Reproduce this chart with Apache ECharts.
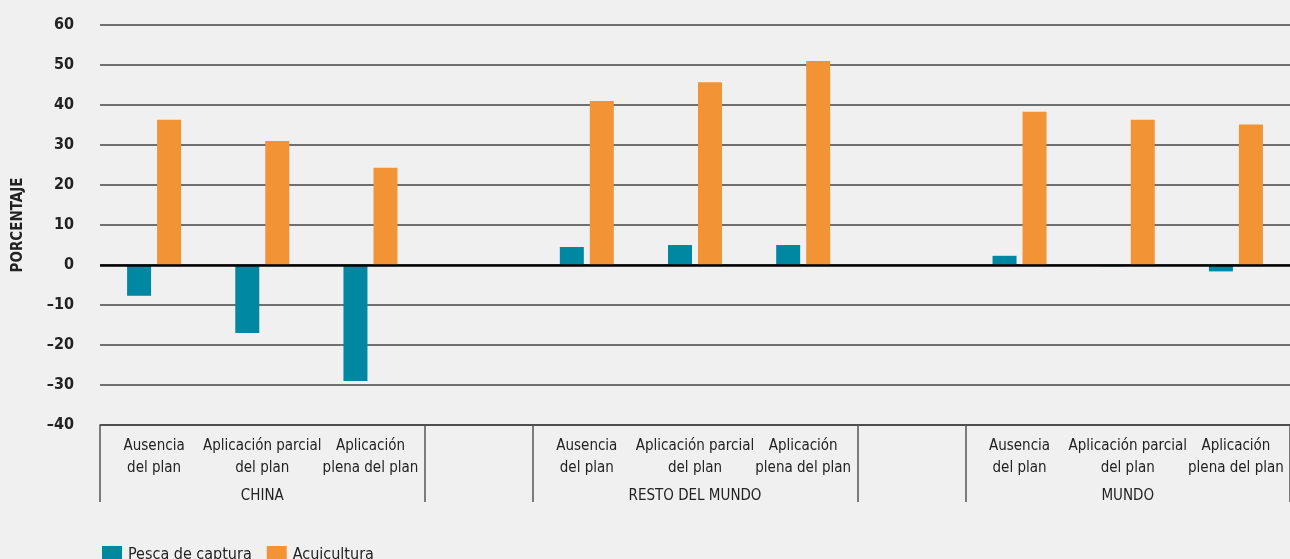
<!DOCTYPE html>
<html><head><meta charset="utf-8">
<script src="https://cdn.jsdelivr.net/npm/echarts@6/dist/echarts.min.js"></script>
<style>html,body{margin:0;padding:0;background:#f0f0f0;}#c{width:1290px;height:559px;}</style>
</head><body><div id="c"></div>
<script>
const categories = ['Ausencia\ndel plan','Aplicación parcial\ndel plan','Aplicación\nplena del plan','',
  'Ausencia\ndel plan','Aplicación parcial\ndel plan','Aplicación\nplena del plan','',
  'Ausencia\ndel plan','Aplicación parcial\ndel plan','Aplicación\nplena del plan'];
const groupLabels = ['','CHINA','','','','RESTO DEL MUNDO','','','','MUNDO',''];
const pesca = [-7.7,-17,-29,null,4.5,5,5,null,2.3,-0.3,-1.6];
const acuicultura = [36.3,31,24.3,null,41,45.7,51,null,38.3,36.3,35.1];
const yTicks = {min:-40,max:60,interval:10};
const FONT = "'Liberation Sans Narrow','DejaVu Sans Condensed',sans-serif";
const sepIdx = [0,3,4,7,8];
const chart = echarts.init(document.getElementById('c'));
chart.setOption({
  backgroundColor:'#f0f0f0',
  animation:false,
  textStyle:{fontFamily:FONT},
  grid:{left:100,right:0,top:25,bottom:134,containLabel:false,outerBoundsMode:'none'},
  legend:{left:97,top:541,itemWidth:20,itemHeight:18,itemGap:15,icon:'rect',
    textStyle:{fontFamily:FONT,fontSize:16,color:'#222',padding:[0,0,0,1]},
    data:['Pesca de captura','Acuicultura']},
  xAxis:[{type:'category',data:categories,
    axisLine:{onZero:false,lineStyle:{color:'#444',width:1.5}},
    axisTick:{show:true,length:77,interval:function(i){return sepIdx.indexOf(i)>=0;},lineStyle:{color:'#555',width:1.5}},
    axisLabel:{interval:0,margin:10,fontFamily:FONT,fontSize:15,lineHeight:22,color:'#222'}},
    {type:'category',data:groupLabels,position:'bottom',axisLine:{show:false,onZero:false},axisTick:{show:false},
    axisLabel:{interval:0,margin:64,fontFamily:FONT,fontSize:15,color:'#222'}}],
  yAxis:{type:'value',min:yTicks.min,max:yTicks.max,interval:yTicks.interval,
    name:'PORCENTAJE',nameLocation:'middle',nameGap:74,nameRotate:90,
    nameTextStyle:{fontFamily:FONT,fontSize:15,fontWeight:'bold',color:'#222'},
    axisLine:{show:false},axisTick:{show:false},
    splitLine:{lineStyle:{color:'#444',width:1.5}},
    axisLabel:{margin:26,fontFamily:FONT,fontSize:16,fontWeight:'bold',color:'#222',
      formatter:function(v){return v<0?'\u2013'+Math.abs(v):String(v);}}},
  series:[
    {name:'Pesca de captura',type:'bar',data:pesca,barWidth:24,barGap:'25%',itemStyle:{color:'#0088a3'},
     markLine:{silent:true,symbol:'none',label:{show:false},lineStyle:{color:'#000',width:2.5,type:'solid'},data:[{yAxis:0}]},z:3},
    {name:'Acuicultura',type:'bar',data:acuicultura,barWidth:24,itemStyle:{color:'#f29336'},z:2}
  ]
});
</script></body></html>
